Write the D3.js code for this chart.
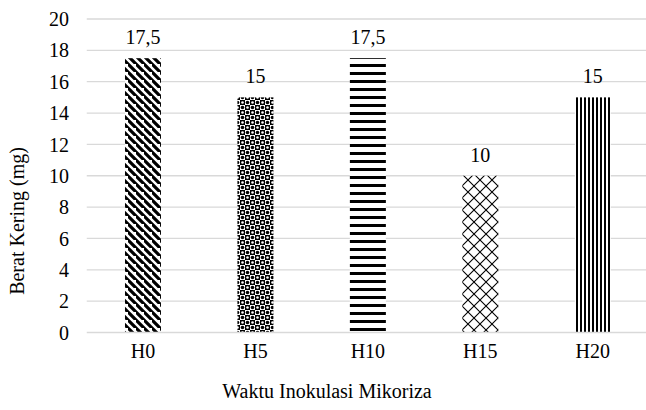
<!DOCTYPE html>
<html>
<head>
<meta charset="utf-8">
<script src="https://cdn.jsdelivr.net/npm/d3@7"></script>
<style>
  body { margin: 0; background: #fff; }
  #chart text { font-family: 'Liberation Serif', 'Times New Roman', Tinos, serif !important; font-size: 20px; fill: #000; }
</style>
</head>
<body>
<svg id="chart" width="646" height="410"></svg>
<script>
var categories = ['H0', 'H5', 'H10', 'H15', 'H20'];
var values = [17.5, 15, 17.5, 10, 15];
var valueLabels = ['17,5', '15', '17,5', '10', '15'];
var yTicks = [0, 2, 4, 6, 8, 10, 12, 14, 16, 18, 20];
var patternIds = ['pDiag', 'pDots', 'pHoriz', 'pDiamond', 'pVert'];

var margins = { left: 86.75, right: -3, top: 19, bottom: 77.5 };
var svg = d3.select('#chart');
var width = 646, height = 410;

// patterns
var defs = svg.append('defs');

var p = defs.append('pattern').attr('id', 'pDiag').attr('patternUnits', 'userSpaceOnUse')
    .attr('width', 8).attr('height', 8);
p.append('rect').attr('width', 8).attr('height', 8).attr('fill', '#fff');
p.append('path').attr('d', 'M-2,-2 L10,10 M-6,2 L2,10 M6,-6 L14,2')
    .attr('stroke', '#000').attr('stroke-width', 3.2);

p = defs.append('pattern').attr('id', 'pDots').attr('patternUnits', 'userSpaceOnUse')
    .attr('width', 10).attr('height', 10);
p.append('rect').attr('width', 10).attr('height', 10).attr('fill', '#fff');
p.append('rect').attr('x', 0).attr('y', 0).attr('width', 5).attr('height', 5).attr('fill', '#000');
p.append('rect').attr('x', 5).attr('y', 5).attr('width', 5).attr('height', 5).attr('fill', '#000');
p.append('circle').attr('cx', 2.5).attr('cy', 2.5).attr('r', 1.3).attr('fill', '#fff');
p.append('circle').attr('cx', 7.5).attr('cy', 7.5).attr('r', 1.3).attr('fill', '#fff');
p.append('circle').attr('cx', 7.5).attr('cy', 2.5).attr('r', 1.8).attr('fill', '#000');
p.append('circle').attr('cx', 2.5).attr('cy', 7.5).attr('r', 1.8).attr('fill', '#000');

p = defs.append('pattern').attr('id', 'pHoriz').attr('patternUnits', 'userSpaceOnUse')
    .attr('width', 8).attr('height', 8);
p.append('rect').attr('width', 8).attr('height', 8).attr('fill', '#fff');
p.append('rect').attr('y', 0).attr('width', 8).attr('height', 3).attr('fill', '#000');

p = defs.append('pattern').attr('id', 'pDiamond').attr('patternUnits', 'userSpaceOnUse')
    .attr('width', 12).attr('height', 12);
p.append('rect').attr('width', 12).attr('height', 12).attr('fill', '#fff');
p.append('path').attr('d', 'M0,0 L12,12 M12,0 L0,12')
    .attr('stroke', '#000').attr('stroke-width', 1.1);

p = defs.append('pattern').attr('id', 'pVert').attr('patternUnits', 'userSpaceOnUse')
    .attr('width', 4).attr('height', 4);
p.append('rect').attr('width', 4).attr('height', 4).attr('fill', '#fff');
p.append('rect').attr('x', 0).attr('width', 2).attr('height', 4).attr('fill', '#000');

var x = d3.scaleBand()
    .domain(categories)
    .range([margins.left, width - margins.right])
    .paddingInner(0.68).paddingOuter(0.34);
var y = d3.scaleLinear()
    .domain([0, 20])
    .range([height - margins.bottom, margins.top]);

// gridlines
svg.append('g').selectAll('line').data(yTicks.filter(function(d) { return d > 0; }))
    .enter().append('line')
    .attr('x1', margins.left).attr('x2', width)
    .attr('y1', function(d) { return y(d); }).attr('y2', function(d) { return y(d); })
    .attr('stroke', '#d9d9d9').attr('stroke-width', 1.3);

// y axis labels
var yAxis = d3.axisLeft(y).tickValues(yTicks).tickSize(0).tickPadding(0);
var yg = svg.append('g').attr('transform', 'translate(' + 69 + ',0)').call(yAxis)
    .attr('font-family', null).attr('font-size', null);
yg.select('.domain').remove();
yg.selectAll('text').attr('dy', '0.33em');

// bars
svg.selectAll('.bar').data(values)
    .enter().append('rect')
    .attr('class', 'bar')
    .attr('x', function(d, i) { return x(categories[i]); })
    .attr('width', x.bandwidth())
    .attr('y', function(d) { return y(d); })
    .attr('height', function(d) { return y(0) - y(d); })
    .attr('fill', function(d, i) { return 'url(#' + patternIds[i] + ')'; });

// baseline
svg.append('line')
    .attr('x1', margins.left).attr('x2', width)
    .attr('y1', y(0)).attr('y2', y(0))
    .attr('stroke', '#d9d9d9').attr('stroke-width', 1.5);

// value labels
svg.selectAll('.vlabel').data(values)
    .enter().append('text')
    .attr('class', 'vlabel')
    .attr('x', function(d, i) { return x(categories[i]) + x.bandwidth() / 2; })
    .attr('y', function(d) { return y(d) - 14; })
    .attr('text-anchor', 'middle')
    .text(function(d, i) { return valueLabels[i]; });

// x axis labels
var xAxis = d3.axisBottom(x).tickSize(0).tickPadding(0);
var xg = svg.append('g').attr('transform', 'translate(0,' + (y(0) + 11) + ')').call(xAxis)
    .attr('font-family', null).attr('font-size', null);
xg.select('.domain').remove();

// axis titles
svg.append('text')
    .attr('x', 327).attr('y', 398)
    .attr('text-anchor', 'middle')
    .text('Waktu Inokulasi Mikoriza');

svg.append('text')
    .attr('transform', 'translate(24,221) rotate(-90)')
    .attr('text-anchor', 'middle')
    .text('Berat Kering (mg)');
</script>
</body>
</html>
